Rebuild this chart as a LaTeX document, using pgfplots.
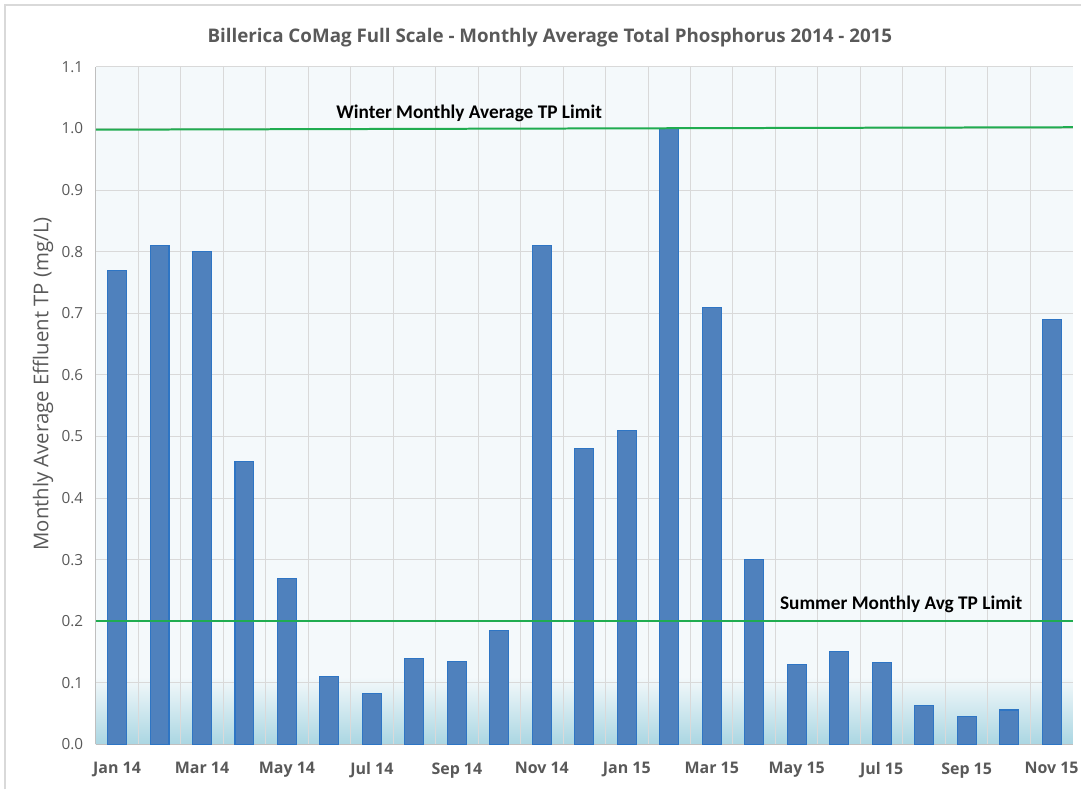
\documentclass[border=0pt]{standalone}
\usepackage{fontspec}
\setmainfont{Open Sans}
\newfontfamily\calibri{Carlito}
\usepackage{pgfplots}
\pgfplotsset{compat=1.18}
\definecolor{barfill}{RGB}{79,129,189}
\definecolor{baredge}{RGB}{46,117,196}
\definecolor{limgreen}{RGB}{32,172,80}
\definecolor{gridc}{RGB}{217,217,217}
\definecolor{axc}{RGB}{191,191,191}
\definecolor{txtgray}{RGB}{89,89,89}
\definecolor{bgc}{RGB}{244,249,251}
\definecolor{gradc}{RGB}{170,214,226}
\pgfdeclareverticalshading{bgshade}{100bp}{color(0bp)=(gradc); color(25bp)=(gradc); color(30bp)=(bgc); color(100bp)=(bgc)}
\begin{document}
\begin{tikzpicture}
\path (0,0) rectangle (812.25pt,593.25pt);
\draw[gridc, line width=1pt] (3.75pt,0) -- (3.75pt,589.5pt) -- (812.25pt,589.5pt);
\node[txtgray, font=\bfseries\fontsize{14.1}{17}\selectfont] at (413.25pt,564.75pt) {Billerica CoMag Full Scale - Monthly Average Total Phosphorus 2014 - 2015};
\begin{axis}[
  set layers,
  at={(72pt,33.75pt)}, anchor=south west,
  scale only axis, width=734.25pt, height=509.25pt,
  xmin=-0.5, xmax=22.5, ymin=0, ymax=1.1,
  ytick={0,0.1,0.2,0.3,0.4,0.5,0.6,0.7,0.8,0.9,1.0,1.1},
  yticklabel style={/pgf/number format/fixed, /pgf/number format/fixed zerofill, /pgf/number format/precision=1, font=\fontsize{11.5}{14}\selectfont, text=txtgray, anchor=east, xshift=-6pt},
  xtick={0,2,4,6,8,10,12,14,16,18,20,22},
  xticklabels={Jan 14,Mar 14,May 14,Jul 14,Sep 14,Nov 14,Jan 15,Mar 15,May 15,Jul 15,Sep 15,Nov 15},
  minor xtick={0.5,1.5,2.5,3.5,4.5,5.5,6.5,7.5,8.5,9.5,10.5,11.5,12.5,13.5,14.5,15.5,16.5,17.5,18.5,19.5,20.5,21.5},
  xmajorgrids=false, xminorgrids=true, ymajorgrids=true,
  grid style={gridc, line width=0.75pt},
  minor grid style={gridc, line width=0.75pt},
  major tick length=0pt, minor tick length=0pt,
  axis lines*=left,
  axis line style={axc, line width=1pt},
  axis background/.style={shading=bgshade},
  xticklabel style={font=\bfseries\fontsize{12}{14}\selectfont, text=txtgray, anchor=north, yshift=-10pt},
  /pgf/number format/assume math mode=true,
  ylabel={Monthly Average Effluent TP (mg/L)},
  ylabel style={font=\fontsize{15.3}{18}\selectfont, text=txtgray, at={(axis description cs:-0.054,0.532)}, anchor=center},
  clip=false,
]
\addplot[ybar, bar width=14.25pt, fill=barfill, draw=baredge, line width=0.8pt] coordinates {
(0,0.77) (1,0.81) (2,0.80) (3,0.46) (4,0.27) (5,0.11) (6,0.083) (7,0.139)
(8,0.134) (9,0.185) (10,0.81) (11,0.48) (12,0.51) (13,1.00) (14,0.71) (15,0.30)
(16,0.13) (17,0.151) (18,0.133) (19,0.064) (20,0.046) (21,0.056) (22,0.69)};
\addplot[limgreen, line width=1.5pt] coordinates {(-0.5,0.998) (22.5,1.002)};
\addplot[limgreen, line width=1.5pt] coordinates {(-0.5,0.2) (22.5,0.2)};
\node[font=\calibri\bfseries\fontsize{14.5}{17}\selectfont] at (axis cs:8.29,1.025) {Winter Monthly Average TP Limit};
\node[font=\calibri\bfseries\fontsize{14.5}{17}\selectfont] at (axis cs:18.46,0.227) {Summer Monthly Avg TP Limit};
\end{axis}
\end{tikzpicture}
\end{document}
